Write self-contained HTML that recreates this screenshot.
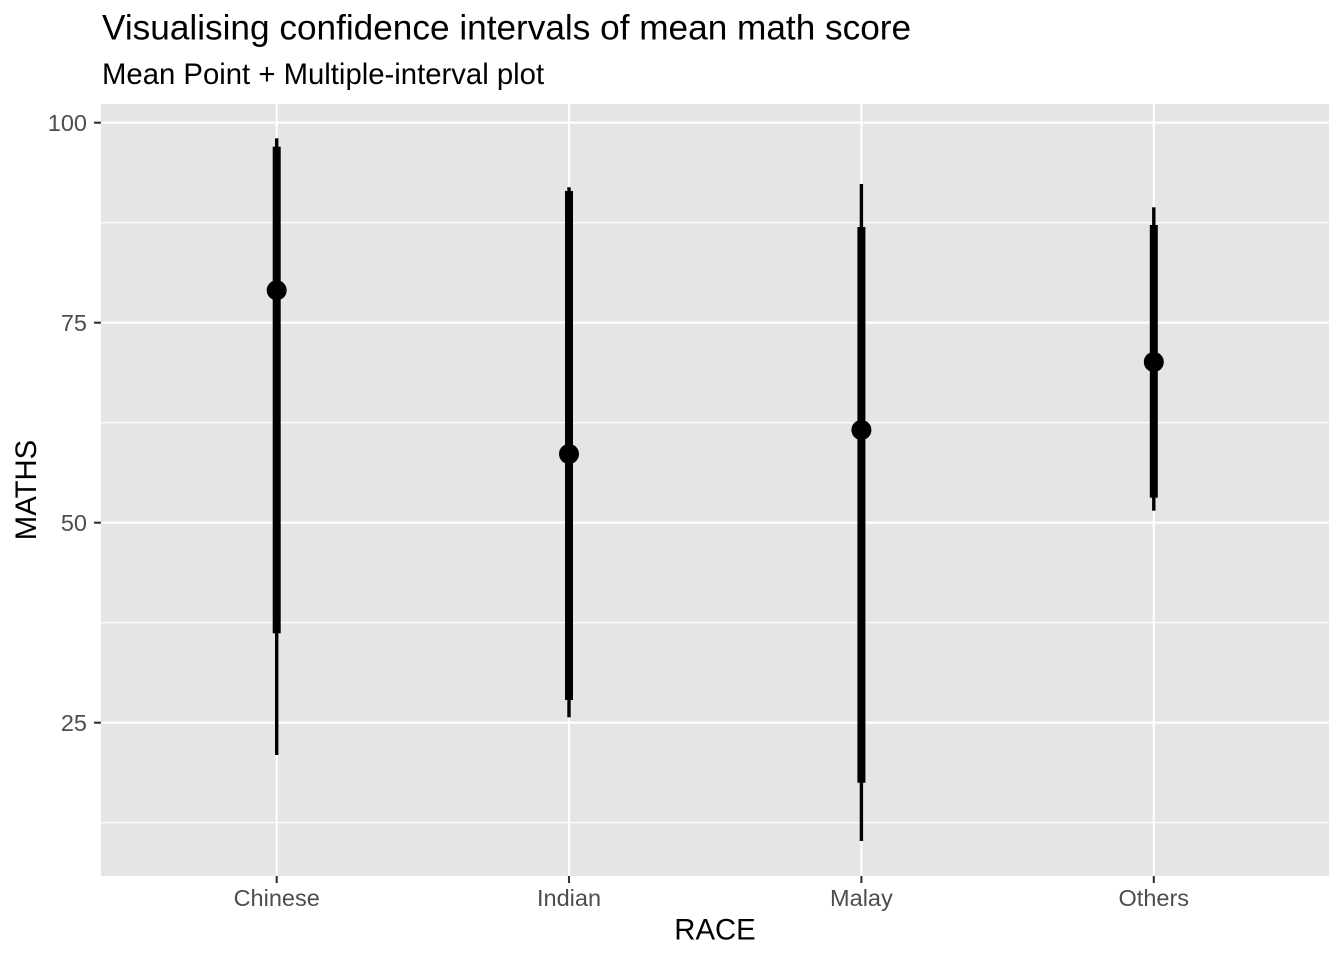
<!DOCTYPE html>
<html><head><meta charset="utf-8"><style>
html,body{margin:0;padding:0;background:#fff;}
svg{display:block;}
text{font-family:"Liberation Sans",Arial,Helvetica,sans-serif;}
</style></head><body>
<svg width="1344" height="960" viewBox="0 0 1344 960" xmlns="http://www.w3.org/2000/svg">
<rect x="0" y="0" width="1344" height="960" fill="#fff"/>
<!-- panel -->
<rect x="101" y="104" width="1228" height="772" fill="#E5E5E5"/>
<!-- minor grid -->
<g stroke="#fff" stroke-width="1.1">
<line x1="101" x2="1329" y1="222.7" y2="222.7"/>
<line x1="101" x2="1329" y1="422.7" y2="422.7"/>
<line x1="101" x2="1329" y1="622.7" y2="622.7"/>
<line x1="101" x2="1329" y1="822.7" y2="822.7"/>
</g>
<!-- major grid -->
<g stroke="#fff" stroke-width="2.1">
<line x1="101" x2="1329" y1="122.7" y2="122.7"/>
<line x1="101" x2="1329" y1="322.7" y2="322.7"/>
<line x1="101" x2="1329" y1="522.7" y2="522.7"/>
<line x1="101" x2="1329" y1="722.7" y2="722.7"/>
<line y1="104" y2="876" x1="276.7" x2="276.7"/>
<line y1="104" y2="876" x1="569" x2="569"/>
<line y1="104" y2="876" x1="861.4" x2="861.4"/>
<line y1="104" y2="876" x1="1153.8" x2="1153.8"/>
</g>
<!-- intervals -->
<g fill="#000">
<!-- Chinese -->
<rect x="275" y="138.3" width="3.4" height="616.7"/>
<rect x="272.7" y="146.7" width="8" height="486.6"/>
<circle cx="276.7" cy="290.3" r="10"/>
<!-- Indian -->
<rect x="567.3" y="187.3" width="3.4" height="530"/>
<rect x="565" y="191" width="8" height="509"/>
<circle cx="569" cy="454" r="10"/>
<!-- Malay -->
<rect x="859.7" y="184" width="3.4" height="657"/>
<rect x="857.4" y="227" width="8" height="555.7"/>
<circle cx="861.4" cy="430" r="10"/>
<!-- Others -->
<rect x="1152.1" y="207.3" width="3.4" height="303.4"/>
<rect x="1149.8" y="225" width="8" height="272.7"/>
<circle cx="1153.8" cy="362" r="10"/>
</g>
<!-- ticks -->
<g stroke="#333" stroke-width="2.1">
<line x1="94" x2="101" y1="122.7" y2="122.7"/>
<line x1="94" x2="101" y1="322.7" y2="322.7"/>
<line x1="94" x2="101" y1="522.7" y2="522.7"/>
<line x1="94" x2="101" y1="722.7" y2="722.7"/>
<line y1="876" y2="883" x1="276.7" x2="276.7"/>
<line y1="876" y2="883" x1="569" x2="569"/>
<line y1="876" y2="883" x1="861.4" x2="861.4"/>
<line y1="876" y2="883" x1="1153.8" x2="1153.8"/>
</g>
<!-- tick labels -->
<g fill="#4D4D4D" font-size="23.5">
<text x="87" y="131.1" text-anchor="end">100</text>
<text x="87" y="331.1" text-anchor="end">75</text>
<text x="87" y="531.1" text-anchor="end">50</text>
<text x="87" y="731.1" text-anchor="end">25</text>
<text x="276.7" y="906" text-anchor="middle">Chinese</text>
<text x="569" y="906" text-anchor="middle">Indian</text>
<text x="861.4" y="906" text-anchor="middle">Malay</text>
<text x="1153.8" y="906" text-anchor="middle">Others</text>
</g>
<!-- axis titles -->
<text x="715" y="939.3" text-anchor="middle" font-size="29.3" fill="#000">RACE</text>
<text transform="translate(36,490) rotate(-90)" text-anchor="middle" font-size="29.3" fill="#000">MATHS</text>
<!-- titles -->
<text x="102" y="39.3" font-size="35.2" fill="#000">Visualising confidence intervals of mean math score</text>
<text x="102" y="84" font-size="29.3" fill="#000">Mean Point + Multiple-interval plot</text>
</svg>
</body></html>
